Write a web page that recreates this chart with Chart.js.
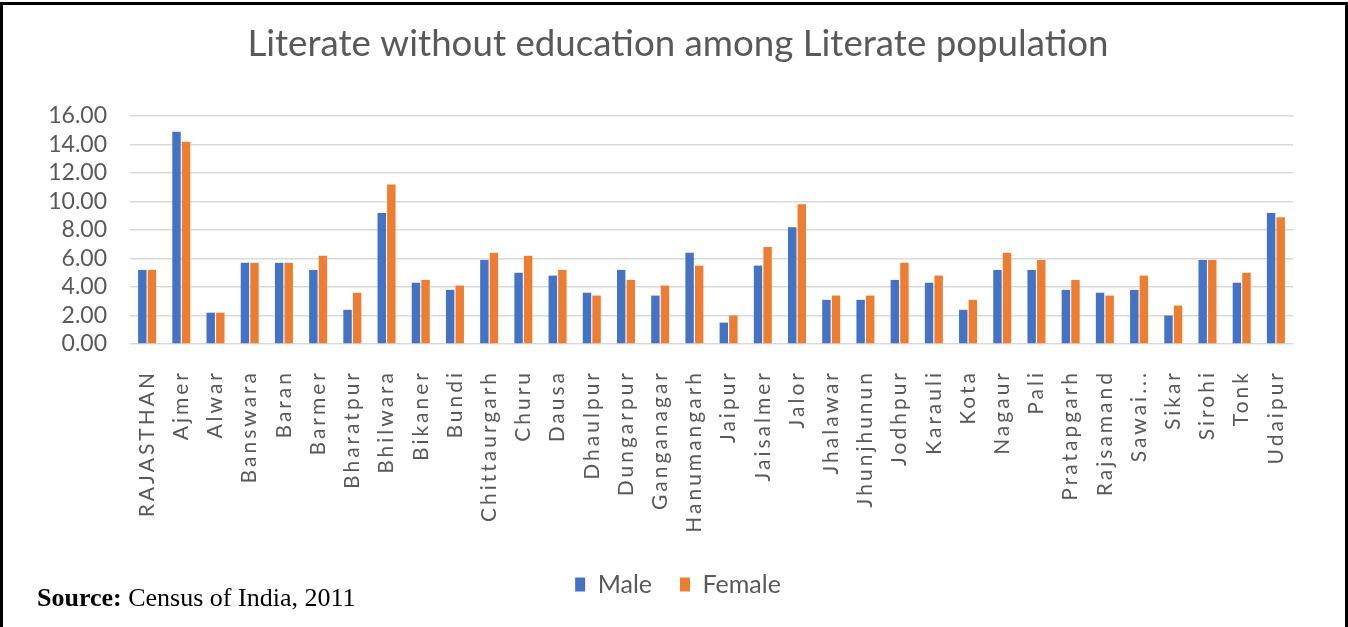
<!DOCTYPE html>
<html>
<head>
<meta charset="utf-8">
<title>Literate without education among Literate population</title>
<script src="https://cdn.jsdelivr.net/npm/chart.js@4.4.1/dist/chart.umd.min.js"></script>
<style>
  html, body { margin: 0; padding: 0; background: #fff; }
  body { width: 1348px; height: 627px; position: relative; overflow: hidden; }
  #frame {
    position: absolute; left: 0; top: 2px; width: 1342px; height: 640px;
    border: 3px solid #000; border-bottom: none; pointer-events: none;
  }
  #wrap { position: absolute; left: 0; top: 0; width: 1348px; height: 627px; }
  #source {
    position: absolute; left: 37px; top: 585px;
    font-family: "Liberation Serif", "Times New Roman", serif;
    font-size: 26px; line-height: 26px; color: #000; white-space: nowrap;
  }
</style>
</head>
<body>
<div id="wrap"><canvas id="litChart"></canvas></div>
<div id="frame"></div>
<div id="source"><b>Source:</b> Census of India, 2011</div>

<script>
// Districts of Rajasthan (plus the state total), Census 2011
const districts = [
  "RAJASTHAN", "Ajmer", "Alwar", "Banswara", "Baran", "Barmer", "Bharatpur",
  "Bhilwara", "Bikaner", "Bundi", "Chittaurgarh", "Churu", "Dausa", "Dhaulpur",
  "Dungarpur", "Ganganagar", "Hanumangarh", "Jaipur", "Jaisalmer", "Jalor",
  "Jhalawar", "Jhunjhunun", "Jodhpur", "Karauli", "Kota", "Nagaur", "Pali",
  "Pratapgarh", "Rajsamand", "Sawai...", "Sikar", "Sirohi", "Tonk", "Udaipur"
];

// % literate without education, by sex
const male = [
  5.2, 14.9, 2.2, 5.7, 5.7, 5.2, 2.4, 9.2, 4.3, 3.8, 5.9, 5.0, 4.8, 3.6,
  5.2, 3.4, 6.4, 1.5, 5.5, 8.2, 3.1, 3.1, 4.5, 4.3, 2.4, 5.2, 5.2,
  3.8, 3.6, 3.8, 2.0, 5.9, 4.3, 9.2
];
const female = [
  5.2, 14.2, 2.2, 5.7, 5.7, 6.2, 3.6, 11.2, 4.5, 4.1, 6.4, 6.2, 5.2, 3.4,
  4.5, 4.1, 5.5, 2.0, 6.8, 9.8, 3.4, 3.4, 5.7, 4.8, 3.1, 6.4, 5.9,
  4.5, 3.4, 4.8, 2.7, 5.9, 5.0, 8.9
];

const yTicks = [0, 2, 4, 6, 8, 10, 12, 14, 16];

const TEXT = "#595959";
const FONT = "Lato, 'Open Sans', sans-serif";

// Rotated district names are drawn with a little extra letter spacing
const spacedTicks = {
  id: "spacedTicks",
  beforeDraw(chart, args, opts) {
    const sx = chart.scales.x;
    if (!sx || sx.__spaced) return;
    const drawLabels = sx.drawLabels;
    sx.drawLabels = function (area) {
      this.ctx.save();
      this.ctx.letterSpacing = (opts.spacing || 0) + "px";
      drawLabels.call(this, area);
      this.ctx.restore();
    };
    sx.__spaced = true;
  }
};

new Chart(document.getElementById("litChart").getContext("2d"), {
  type: "bar",
  data: {
    labels: districts,
    datasets: [
      { label: "Male", data: male, backgroundColor: "#4472C4" },
      { label: "Female", data: female, backgroundColor: "#ED7D31" }
    ]
  },
  plugins: [spacedTicks],
  options: {
    responsive: true,
    maintainAspectRatio: false,
    animation: false,
    categoryPercentage: 0.56,
    barPercentage: 0.88,
    layout: { padding: { left: 8, right: 0, top: 0, bottom: 20 } },
    scales: {
      x: {
        grid: { display: false },
        border: { display: false },
        ticks: {
          color: TEXT,
          font: { family: FONT, size: 21 },
          minRotation: 90,
          maxRotation: 90,
          autoSkip: false,
          padding: 18
        },
        afterFit: s => { s.height = 200; }
      },
      y: {
        min: 0,
        max: 16,
        afterBuildTicks: s => { s.ticks = yTicks.map(v => ({ value: v })); },
        grid: { color: "#d9d9d9", lineWidth: 1.5, drawTicks: false },
        border: { display: false },
        ticks: {
          color: TEXT,
          font: { family: FONT, size: 23 },
          padding: 23,
          autoSkip: false,
          callback: v => v.toFixed(2)
        },
        afterFit: s => { s.width = 122; }
      },
      // empty right-hand gutter so the plot stops short of the frame
      gutter: {
        type: "linear",
        position: "right",
        grid: { display: false },
        border: { display: false },
        ticks: { display: false },
        afterFit: s => { s.width = 55; }
      }
    },
    plugins: {
      title: {
        display: true,
        text: "Literate without education among Literate population",
        color: TEXT,
        font: { family: FONT, size: 36.7, weight: "normal" },
        padding: { top: 22, bottom: 50 }
      },
      legend: {
        position: "bottom",
        labels: {
          color: TEXT,
          font: { family: FONT, size: 25 },
          boxWidth: 10,
          boxHeight: 14,
          padding: 28
        }
      },
      tooltip: { enabled: false },
      spacedTicks: { spacing: 3 }
    }
  }
});
</script>
</body>
</html>
